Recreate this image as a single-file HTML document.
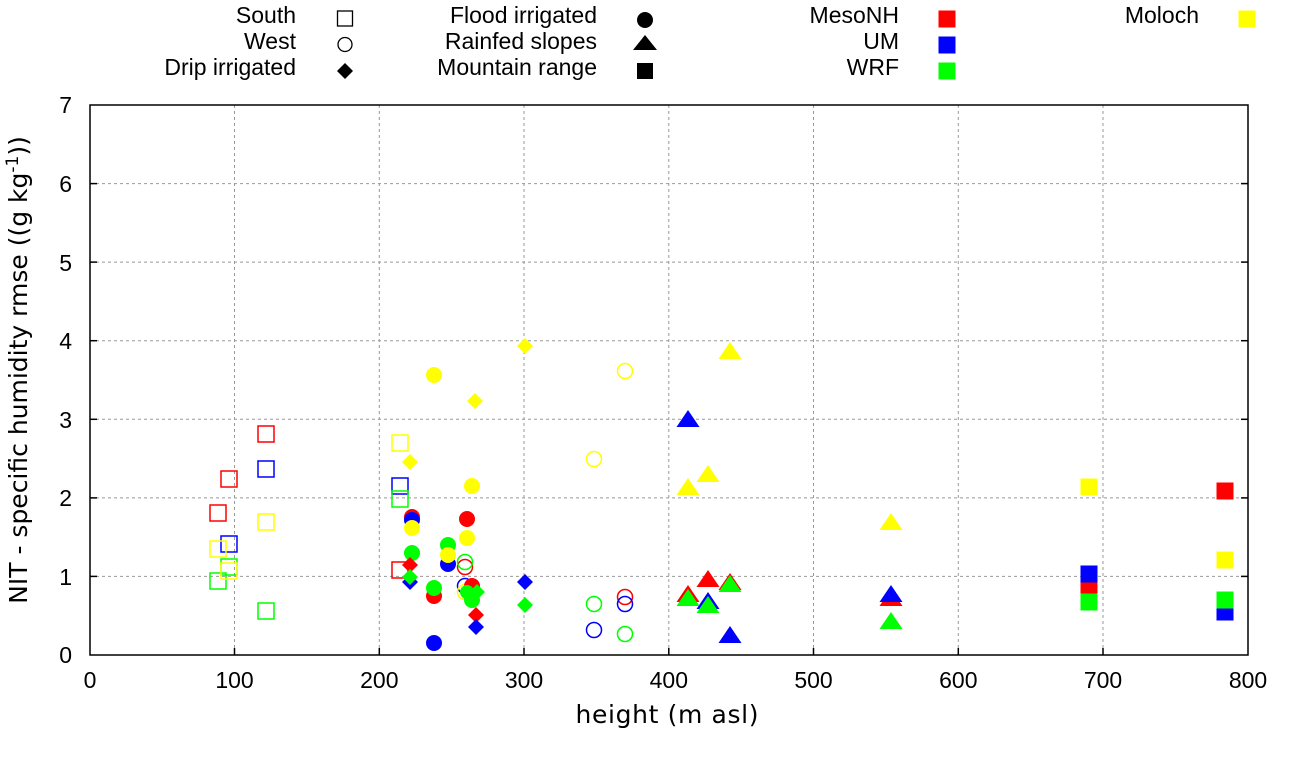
<!DOCTYPE html>
<html><head><meta charset="utf-8"><style>
html,body{margin:0;padding:0;background:#fff}
svg{display:block}
text{font-family:"Liberation Sans",Arial,sans-serif;font-size:23px;fill:#000}
</style></head><body>
<svg width="1290" height="760" viewBox="0 0 1290 760" xmlns="http://www.w3.org/2000/svg">
<!-- grid -->
<g stroke="#999" stroke-width="1" stroke-dasharray="3,3">
<line x1="90" y1="576.4" x2="1248" y2="576.4"/>
<line x1="90" y1="497.9" x2="1248" y2="497.9"/>
<line x1="90" y1="419.3" x2="1248" y2="419.3"/>
<line x1="90" y1="340.7" x2="1248" y2="340.7"/>
<line x1="90" y1="262.1" x2="1248" y2="262.1"/>
<line x1="90" y1="183.6" x2="1248" y2="183.6"/>
<line x1="234.5" y1="105" x2="234.5" y2="655"/>
<line x1="379.3" y1="105" x2="379.3" y2="655"/>
<line x1="524" y1="105" x2="524" y2="655"/>
<line x1="668.8" y1="105" x2="668.8" y2="655"/>
<line x1="813.5" y1="105" x2="813.5" y2="655"/>
<line x1="958.3" y1="105" x2="958.3" y2="655"/>
<line x1="1103" y1="105" x2="1103" y2="655"/>
</g>
<rect x="90" y="105" width="1158" height="550" fill="none" stroke="#000" stroke-width="1.5"/>
<g stroke="#000" stroke-width="1.5">
<line x1="90" y1="576.4" x2="97" y2="576.4"/><line x1="1248" y1="576.4" x2="1241" y2="576.4"/>
<line x1="90" y1="497.9" x2="97" y2="497.9"/><line x1="1248" y1="497.9" x2="1241" y2="497.9"/>
<line x1="90" y1="419.3" x2="97" y2="419.3"/><line x1="1248" y1="419.3" x2="1241" y2="419.3"/>
<line x1="90" y1="340.7" x2="97" y2="340.7"/><line x1="1248" y1="340.7" x2="1241" y2="340.7"/>
<line x1="90" y1="262.1" x2="97" y2="262.1"/><line x1="1248" y1="262.1" x2="1241" y2="262.1"/>
<line x1="90" y1="183.6" x2="97" y2="183.6"/><line x1="1248" y1="183.6" x2="1241" y2="183.6"/>
<line x1="234.5" y1="655" x2="234.5" y2="648"/><line x1="379.3" y1="655" x2="379.3" y2="648"/>
<line x1="524" y1="655" x2="524" y2="648"/><line x1="668.8" y1="655" x2="668.8" y2="648"/>
<line x1="813.5" y1="655" x2="813.5" y2="648"/><line x1="958.3" y1="655" x2="958.3" y2="648"/>
<line x1="1103" y1="655" x2="1103" y2="648"/>
</g>
<!-- tick labels -->
<g text-anchor="end">
<text x="72" y="663">0</text><text x="72" y="585">1</text><text x="72" y="506">2</text>
<text x="72" y="428">3</text><text x="72" y="349">4</text><text x="72" y="271">5</text>
<text x="72" y="192">6</text><text x="72" y="113">7</text>
</g>
<g text-anchor="middle">
<text x="90" y="688">0</text><text x="234.5" y="688">100</text><text x="379.3" y="688">200</text>
<text x="524" y="688">300</text><text x="668.8" y="688">400</text><text x="813.5" y="688">500</text>
<text x="958.3" y="688">600</text><text x="1103" y="688">700</text><text x="1248" y="688">800</text>
</g>
<text x="667" y="723" text-anchor="middle" textLength="183" style="font-family:'DejaVu Sans',sans-serif;font-size:25px">height (m asl)</text>
<text transform="translate(27,370) rotate(-90)" text-anchor="middle" style="font-family:'DejaVu Sans',sans-serif;font-size:25px">NIT - specific humidity rmse ((g kg<tspan dy="-9" font-size="17">-1</tspan><tspan dy="9">))</tspan></text>

<!-- legend -->
<g text-anchor="end">
<text x="296" y="23">South</text><text x="296" y="49">West</text><text x="296" y="75">Drip irrigated</text>
<text x="597" y="23">Flood irrigated</text><text x="597" y="49">Rainfed slopes</text><text x="597" y="75">Mountain range</text>
<text x="899" y="23">MesoNH</text><text x="899" y="49">UM</text><text x="899" y="75">WRF</text>
<text x="1199" y="23">Moloch</text>
</g>
<rect x="337.5" y="11" width="15" height="15" fill="none" stroke="#000" stroke-width="1.3"/>
<circle cx="345" cy="44.5" r="7" fill="none" stroke="#000" stroke-width="1.3"/>
<polygon points="345,63 353,71 345,79 337,71" fill="#000"/>
<circle cx="645" cy="20" r="8" fill="#000"/>
<polygon points="645,35 657,50 633,50" fill="#000"/>
<rect x="637" y="63" width="16" height="16" fill="#000"/>
<rect x="938.5" y="10.5" width="17" height="17" fill="#f00"/>
<rect x="938.5" y="36.5" width="17" height="17" fill="#00f"/>
<rect x="938.5" y="62.5" width="17" height="17" fill="#0f0"/>
<rect x="1238.5" y="10.5" width="17" height="17" fill="#ff0"/>

<!-- data: open squares -->
<g fill="none" stroke-width="1.5">
<rect x="258" y="426" width="16" height="16" stroke="#f00"/>
<rect x="221" y="471" width="16" height="16" stroke="#f00"/>
<rect x="210" y="505" width="16" height="16" stroke="#f00"/>
<rect x="392" y="562" width="16" height="16" stroke="#f00"/>
<rect x="258" y="461" width="16" height="16" stroke="#00f"/>
<rect x="221" y="536" width="16" height="16" stroke="#00f"/>
<rect x="392" y="478" width="16" height="16" stroke="#00f"/>
<rect x="221" y="559" width="16" height="16" stroke="#0f0"/>
<rect x="210" y="573" width="16" height="16" stroke="#0f0"/>
<rect x="258" y="603" width="16" height="16" stroke="#0f0"/>
<rect x="392" y="491" width="16" height="16" stroke="#0f0"/>
<rect x="258" y="514" width="16" height="16" stroke="#ff0"/>
<rect x="210" y="541" width="16" height="16" stroke="#ff0"/>
<rect x="221" y="563" width="16" height="16" stroke="#ff0"/>
<rect x="392" y="435" width="16" height="16" stroke="#ff0"/>
</g>
<!-- open circles -->
<g fill="none" stroke-width="1.5">
<circle cx="465" cy="567" r="7.5" stroke="#f00"/>
<circle cx="625" cy="597" r="7.5" stroke="#f00"/>
<circle cx="465" cy="586" r="7.5" stroke="#00f"/>
<circle cx="625" cy="604" r="7.5" stroke="#00f"/>
<circle cx="594" cy="630" r="7.5" stroke="#00f"/>
<circle cx="465" cy="562" r="7.5" stroke="#0f0"/>
<circle cx="594" cy="604" r="7.5" stroke="#0f0"/>
<circle cx="625" cy="634" r="7.5" stroke="#0f0"/>
<circle cx="465" cy="592" r="7.5" stroke="#ff0"/>
<circle cx="594" cy="459" r="7.5" stroke="#ff0"/>
<circle cx="625" cy="371" r="7.5" stroke="#ff0"/>
</g>
<!-- filled circles -->
<g>
<circle cx="412" cy="517" r="8" fill="#f00"/>
<circle cx="467" cy="519" r="8" fill="#f00"/>
<circle cx="434" cy="596" r="8" fill="#f00"/>
<circle cx="472" cy="586" r="8" fill="#f00"/>
<circle cx="412" cy="520" r="8" fill="#00f"/>
<circle cx="448" cy="564" r="8" fill="#00f"/>
<circle cx="434" cy="643" r="8" fill="#00f"/>
<circle cx="412" cy="553" r="8" fill="#0f0"/>
<circle cx="448" cy="545" r="8" fill="#0f0"/>
<circle cx="434" cy="588" r="8" fill="#0f0"/>
<circle cx="472" cy="600" r="8" fill="#0f0"/>
<circle cx="467" cy="592" r="7" fill="#0f0"/>
<circle cx="412" cy="528" r="8" fill="#ff0"/>
<circle cx="448" cy="555" r="8" fill="#ff0"/>
<circle cx="467" cy="538" r="8" fill="#ff0"/>
<circle cx="472" cy="486" r="8" fill="#ff0"/>
<circle cx="434" cy="375" r="8" fill="#ff0"/>
</g>
<!-- diamonds -->
<g>
<polygon points="410,557 418,565 410,573 402,565" fill="#f00"/>
<polygon points="476,607 484,615 476,623 468,615" fill="#f00"/>
<polygon points="410,574 418,582 410,590 402,582" fill="#00f"/>
<polygon points="476,619 484,627 476,635 468,627" fill="#00f"/>
<polygon points="525,574 533,582 525,590 517,582" fill="#00f"/>
<polygon points="410,569 418,577 410,585 402,577" fill="#0f0"/>
<polygon points="477,584 485,592 477,600 469,592" fill="#0f0"/>
<polygon points="525,597 533,605 525,613 517,605" fill="#0f0"/>
<polygon points="410,454 418,462 410,470 402,462" fill="#ff0"/>
<polygon points="475,393 483,401 475,409 467,401" fill="#ff0"/>
<polygon points="525,338 533,346 525,354 517,346" fill="#ff0"/>
</g>
<!-- triangles -->
<g>
<polygon points="708,570 719.5,587 696.5,587" fill="#f00"/>
<polygon points="730,573 741.5,590 718.5,590" fill="#f00"/>
<polygon points="688,585 699.5,602 676.5,602" fill="#f00"/>
<polygon points="891,589 902.5,606 879.5,606" fill="#f00"/>
<polygon points="688,410 699.5,427 676.5,427" fill="#00f"/>
<polygon points="708,592 719.5,609 696.5,609" fill="#00f"/>
<polygon points="891,585 902.5,602 879.5,602" fill="#00f"/>
<polygon points="730,626 741.5,643 718.5,643" fill="#00f"/>
<polygon points="730,575 741.5,592 718.5,592" fill="#0f0"/>
<polygon points="688,589 699.5,606 676.5,606" fill="#0f0"/>
<polygon points="708,596 719.5,613 696.5,613" fill="#0f0"/>
<polygon points="891,612 902.5,629 879.5,629" fill="#0f0"/>
<polygon points="730,342 741.5,359 718.5,359" fill="#ff0"/>
<polygon points="708,465 719.5,482 696.5,482" fill="#ff0"/>
<polygon points="688,478 699.5,495 676.5,495" fill="#ff0"/>
<polygon points="891,513 902.5,530 879.5,530" fill="#ff0"/>
</g>
<!-- filled squares -->
<g>
<rect x="1080.5" y="577.5" width="17" height="17" fill="#f00"/>
<rect x="1216.5" y="482.5" width="17" height="17" fill="#f00"/>
<rect x="1080.5" y="565.5" width="17" height="17" fill="#00f"/>
<rect x="1216.5" y="603.5" width="17" height="17" fill="#00f"/>
<rect x="1080.5" y="593.5" width="17" height="17" fill="#0f0"/>
<rect x="1216.5" y="591.5" width="17" height="17" fill="#0f0"/>
<rect x="1080.5" y="478.5" width="17" height="17" fill="#ff0"/>
<rect x="1216.5" y="551.5" width="17" height="17" fill="#ff0"/>
</g>
</svg>
</body></html>
